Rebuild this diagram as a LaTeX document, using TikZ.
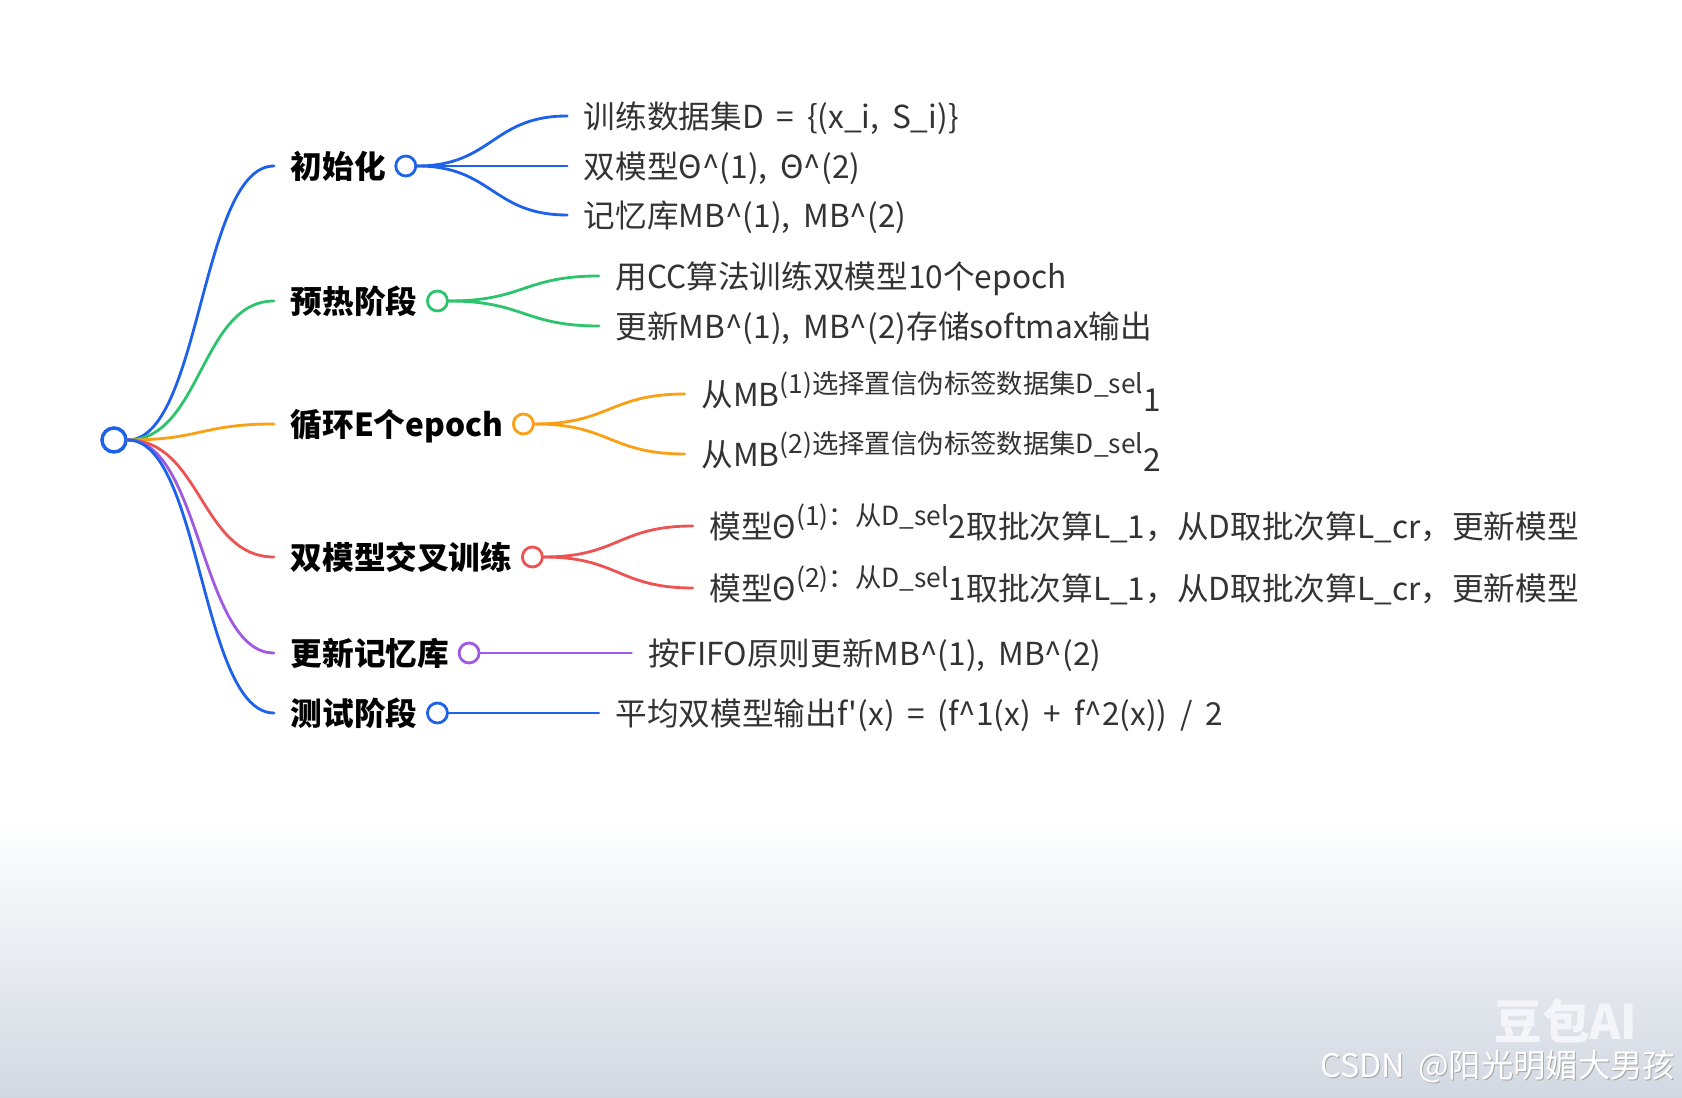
\documentclass[tikz,border=0pt]{standalone}
\usepackage{fontspec}
\setmainfont{Noto Sans CJK SC}[Ligatures=TeXOff, WordSpace=1.8]
\usetikzlibrary{positioning,calc}

\definecolor{mmblue}{RGB}{30,98,235}
\definecolor{mmgreen}{RGB}{46,196,110}
\definecolor{mmorange}{RGB}{250,160,20}
\definecolor{mmred}{RGB}{236,84,84}
\definecolor{mmpurple}{RGB}{160,90,225}
\definecolor{leaftext}{RGB}{51,51,51}
\definecolor{bgbottom}{RGB}{210,216,226}

\newcommand{\upsmall}[1]{\raisebox{3.6pt}{\fontsize{7.5}{8}\selectfont #1}}

\tikzset{
  link/.style={line width=0.8pt, line cap=round,
    to path={let \p1=(\tikztostart), \p2=(\tikztotarget) in
      .. controls ({(\x1+\x2)/2},\y1) and ({(\x1+\x2)/2},\y2) .. (\tikztotarget)}},
  rootdot/.style={circle, draw=mmblue, line width=1pt, fill=white, minimum size=0.24cm, inner sep=0},
  hub/.style={circle, draw=#1, line width=0.8pt, fill=white, minimum size=0.2cm, inner sep=0},
  topic/.style={font=\bfseries\fontsize{9}{11}\selectfont, text=black, inner sep=0,
    text height=8pt, text depth=1pt},
  leaf/.style={font=\fontsize{9}{11}\selectfont, text=leaftext, inner sep=0,
    text height=8pt, text depth=1pt},
  mark text/.style={font=\fontsize{9.2}{11}\selectfont, inner sep=0, anchor=east},
}

\begin{document}
\begin{tikzpicture}[x=0.01cm, y=-0.01cm]
  \useasboundingbox (0,0) rectangle (1682,1098);
  % background
  \fill[white] (0,0) rectangle (1682,1098);
  \shade[top color=white, bottom color=bgbottom] (0,820) rectangle (1682,1098);

  % root
  \node[rootdot] (root) at (114,440) {};

  % ends of the main branches
  \coordinate (a1) at (274,166);
  \coordinate (a2) at (274,301);
  \coordinate (a3) at (274,424);
  \coordinate (a4) at (274,557);
  \coordinate (a5) at (274,653);
  \coordinate (a6) at (274,713);

  % topics
  \node[topic, right=0.16cm of a1] (p1) {初始化};
  \node[hub=mmblue, right=0.08cm of p1] (c1) {};
  \node[topic, right=0.16cm of a2] (p2) {预热阶段};
  \node[hub=mmgreen, right=0.08cm of p2] (c2) {};
  \node[topic, right=0.16cm of a3] (p3) {循环E个epoch};
  \node[hub=mmorange, right=0.08cm of p3] (c3) {};
  \node[topic, right=0.16cm of a4] (p4) {双模型交叉训练};
  \node[hub=mmred, right=0.08cm of p4] (c4) {};
  \node[topic, right=0.16cm of a5] (p5) {更新记忆库};
  \node[hub=mmpurple, right=0.08cm of p5] (c5) {};
  \node[topic, right=0.16cm of a6] (p6) {测试阶段};
  \node[hub=mmblue, right=0.08cm of p6] (c6) {};

  \draw[link, mmblue] (root.east) to (a1);
  \draw[link, mmgreen] (root.east) to (a2);
  \draw[link, mmorange] (root.east) to (a3);
  \draw[link, mmred] (root.east) to (a4);
  \draw[link, mmpurple] (root.east) to (a5);
  \draw[link, mmblue] (root.east) to (a6);

  % ends of the leaf branches
  \coordinate (k11) at ($(c1.east)+(150,-50)$);
  \coordinate (k12) at ($(c1.east)+(150,0)$);
  \coordinate (k13) at ($(c1.east)+(150,49)$);
  \coordinate (k21) at ($(c2.east)+(150,-25)$);
  \coordinate (k22) at ($(c2.east)+(150,25)$);
  \coordinate (k31) at ($(c3.east)+(150,-30)$);
  \coordinate (k32) at ($(c3.east)+(150,30)$);
  \coordinate (k41) at ($(c4.east)+(149,-31)$);
  \coordinate (k42) at ($(c4.east)+(149,31)$);
  \coordinate (k51) at ($(c5.east)+(151,0)$);
  \coordinate (k61) at ($(c6.east)+(150,0)$);

  \draw[link, mmblue] (c1.east) to (k11);
  \draw[link, mmblue] (c1.east) to (k12);
  \draw[link, mmblue] (c1.east) to (k13);
  \draw[link, mmgreen] (c2.east) to (k21);
  \draw[link, mmgreen] (c2.east) to (k22);
  \draw[link, mmorange] (c3.east) to (k31);
  \draw[link, mmorange] (c3.east) to (k32);
  \draw[link, mmred] (c4.east) to (k41);
  \draw[link, mmred] (c4.east) to (k42);
  \draw[link, mmpurple] (c5.east) to (k51);
  \draw[link, mmblue] (c6.east) to (k61);

  % leaves
  \node[leaf, right=0.16cm of k11] (l11) {训练数据集D = \{(x\_i, S\_i)\}};
  \node[leaf, right=0.16cm of k12] (l12) {双模型Θ\textasciicircum(1), Θ\textasciicircum(2)};
  \node[leaf, right=0.16cm of k13] (l13) {记忆库MB\textasciicircum(1), MB\textasciicircum(2)};
  \node[leaf, right=0.16cm of k21] (l21) {用CC算法训练双模型10个epoch};
  \node[leaf, right=0.16cm of k22] (l22) {更新MB\textasciicircum(1), MB\textasciicircum(2)存储softmax输出};
  \node[leaf, right=0.16cm of k31] (l31) {从MB\upsmall{(1)选择置信伪标签数据集D\_sel}\raisebox{-1.5pt}{1}};
  \node[leaf, right=0.16cm of k32] (l32) {从MB\upsmall{(2)选择置信伪标签数据集D\_sel}\raisebox{-1.5pt}{2}};
  \node[leaf, right=0.16cm of k41] (l41) {模型Θ\upsmall{(1)：从D\_sel}2取批次算L\_1，从D取批次算L\_cr，更新模型};
  \node[leaf, right=0.16cm of k42] (l42) {模型Θ\upsmall{(2)：从D\_sel}1取批次算L\_1，从D取批次算L\_cr，更新模型};
  \node[leaf, right=0.16cm of k51] (l51) {按FIFO原则更新MB\textasciicircum(1), MB\textasciicircum(2)};
  \node[leaf, right=0.16cm of k61] (l61) {平均双模型输出f'(x) = (f\textasciicircum1(x) + f\textasciicircum2(x)) / 2};

  % watermark
  \node[font=\bfseries\fontsize{13.5}{14}\selectfont, text=white!75!bgbottom] (wm) at (1566,1021) {豆包AI};
  \node[mark text, text=gray!70] at (1677,1068) {CSDN @阳光明媚大男孩};
  \node[mark text, text=white] (csdn) at (1676,1067) {CSDN @阳光明媚大男孩};
\end{tikzpicture}
\end{document}
